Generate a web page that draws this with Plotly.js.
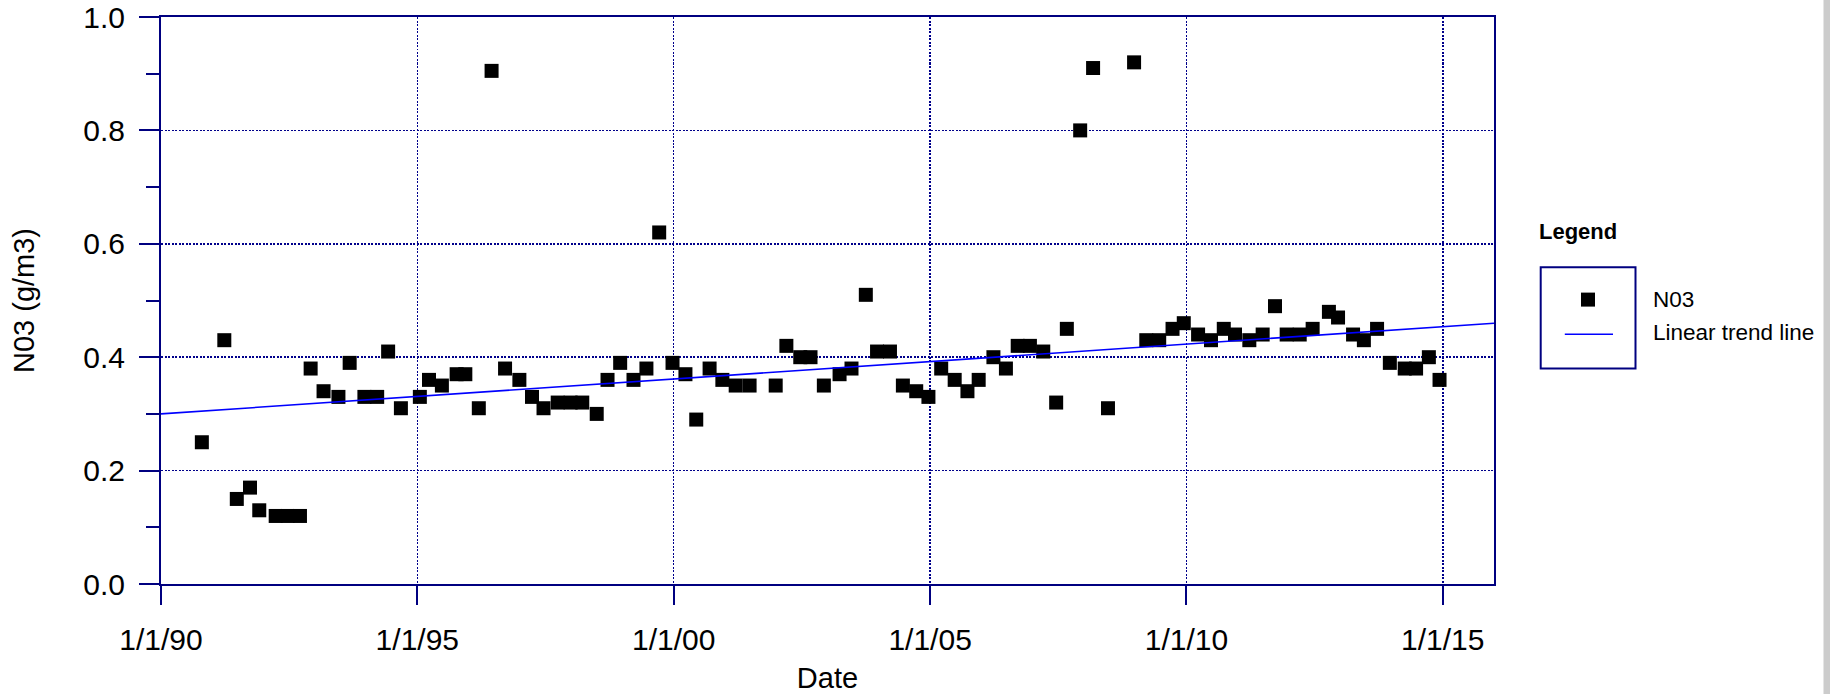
<!DOCTYPE html>
<html>
<head>
<meta charset="utf-8">
<script src="https://cdn.plot.ly/plotly-3.0.1.min.js"></script>
<style>
  html, body { margin: 0; padding: 0; background: #ffffff; }
  #chart { width: 1830px; height: 694px; }
</style>
</head>
<body>
<div id="chart"></div>
<script>
// ---- Data ----
const sampleDates = [
  '1990-10-19','1991-03-28','1991-06-25','1991-09-27','1991-12-02',
  '1992-03-28','1992-06-21','1992-09-17','1992-12-02',
  '1993-03-04','1993-06-18','1993-09-06','1993-12-20',
  '1994-03-21','1994-06-07','1994-09-06',
  '1995-01-19','1995-03-25','1995-06-25','1995-10-08','1995-12-09',
  '1996-03-14','1996-06-13','1996-09-17','1996-12-28',
  '1997-03-28','1997-06-18','1997-09-27','1997-12-28',
  '1998-03-21','1998-07-02','1998-09-17','1998-12-16',
  '1999-03-21','1999-06-21','1999-09-20','1999-12-24',
  '2000-03-25','2000-06-10','2000-09-13','2000-12-13',
  '2001-03-18','2001-06-25','2001-12-28',
  '2002-03-14','2002-06-21','2002-09-02','2002-12-06',
  '2003-03-28','2003-06-21','2003-10-01','2003-12-20',
  '2004-03-21','2004-06-21','2004-09-24','2004-12-20',
  '2005-03-21','2005-06-25','2005-09-24','2005-12-13',
  '2006-03-28','2006-06-25','2006-09-17','2006-12-13',
  '2007-03-18','2007-06-18','2007-09-02','2007-12-06',
  '2008-03-07','2008-06-21','2008-12-24',
  '2009-03-21','2009-06-21','2009-09-24','2009-12-13',
  '2010-03-25','2010-06-25','2010-09-24','2010-12-13',
  '2011-03-25','2011-06-28','2011-09-24','2011-12-16',
  '2012-03-18','2012-06-18','2012-10-12','2012-12-16',
  '2013-04-02','2013-06-18','2013-09-20','2013-12-20',
  '2014-04-05','2014-06-25','2014-09-24','2014-12-09'
];
const no3Values = [
  0.25, 0.43, 0.15, 0.17, 0.13,
  0.12, 0.12, 0.12, 0.38,
  0.34, 0.33, 0.39, 0.33,
  0.33, 0.41, 0.31,
  0.33, 0.36, 0.35, 0.37, 0.37,
  0.31, 0.905, 0.38, 0.36,
  0.33, 0.31, 0.32, 0.32,
  0.32, 0.30, 0.36, 0.39,
  0.36, 0.38, 0.62, 0.39,
  0.37, 0.29, 0.38, 0.36,
  0.35, 0.35, 0.35,
  0.42, 0.40, 0.40, 0.35,
  0.37, 0.38, 0.51, 0.41,
  0.41, 0.35, 0.34, 0.33,
  0.38, 0.36, 0.34, 0.36,
  0.40, 0.38, 0.42, 0.42,
  0.41, 0.32, 0.45, 0.80,
  0.91, 0.31, 0.92,
  0.43, 0.43, 0.45, 0.46,
  0.44, 0.43, 0.45, 0.44,
  0.43, 0.44, 0.49, 0.44,
  0.44, 0.45, 0.48, 0.47,
  0.44, 0.43, 0.45, 0.39,
  0.38, 0.38, 0.40, 0.36
];
const trendDates = ['1990-01-01', '2016-01-01'];
const trendValues = [0.300, 0.460];

const xTickVals = ['1990-01-01','1995-01-01','2000-01-01','2005-01-01','2010-01-01','2015-01-01'];
const xTickText = ['1/1/90','1/1/95','1/1/00','1/1/05','1/1/10','1/1/15'];
const yTickVals = [0.0, 0.2, 0.4, 0.6, 0.8, 1.0];
const yTickText = ['0.0','0.2','0.4','0.6','0.8','1.0'];

const seriesName = 'N03';
const trendName = 'Linear trend line';
const legendTitle = 'Legend';

// ---- Layout geometry (pixels) ----
const W = 1830, H = 694;
const M = { l: 161, r: 336, t: 17, b: 110 };
const plotW = W - M.l - M.r, plotH = H - M.t - M.b;
const px = x => (x - M.l) / plotW;        // pixel x -> paper x
const py = y => (H - M.b - y) / plotH;    // pixel y -> paper y

const FONT = 'Liberation Sans, Arial, Helvetica, sans-serif';
const NAVY = '#000080';
const GRID = '#00008b';

const traces = [
  {
    type: 'scatter', mode: 'markers', name: seriesName,
    x: sampleDates, y: no3Values,
    marker: { symbol: 'square', size: 14, color: '#000000', line: { width: 0 } },
    hoverinfo: 'x+y'
  },
  {
    type: 'scatter', mode: 'lines', name: trendName,
    x: trendDates, y: trendValues,
    line: { color: '#0000ff', width: 1.6 },
    hoverinfo: 'skip'
  }
];

const layout = {
  width: W, height: H,
  margin: M,
  paper_bgcolor: '#ffffff', plot_bgcolor: '#ffffff',
  showlegend: false,
  font: { family: FONT, color: '#000000' },
  xaxis: {
    type: 'date',
    range: ['1990-01-01', '2016-01-01'],
    tickmode: 'array', tickvals: xTickVals, ticktext: xTickText,
    ticks: 'outside', ticklen: 19, tickwidth: 2, tickcolor: NAVY,
    ticklabelstandoff: 9,
    tickfont: { family: FONT, size: 30, color: '#000000' },
    showline: true, linecolor: NAVY, linewidth: 2, mirror: true,
    showgrid: true, gridcolor: GRID, gridwidth: 1.5, griddash: '2px,1.5px',
    zeroline: false,
    title: { text: 'Date', font: { family: FONT, size: 29, color: '#000000' }, standoff: 15 },
    automargin: false
  },
  yaxis: {
    range: [0, 1],
    tickmode: 'array', tickvals: yTickVals, ticktext: yTickText,
    ticks: 'outside', ticklen: 20, tickwidth: 2, tickcolor: NAVY,
    ticklabelstandoff: 8,
    tickfont: { family: FONT, size: 30, color: '#000000' },
    minor: { dtick: 0.1, tick0: 0, ticks: 'outside', ticklen: 13, tickwidth: 2, tickcolor: NAVY, showgrid: false },
    showline: true, linecolor: NAVY, linewidth: 2, mirror: true,
    showgrid: true, gridcolor: GRID, gridwidth: 1.5, griddash: '2px,1.5px',
    zeroline: false,
    title: { text: 'N03 (g/m3)', font: { family: FONT, size: 29, color: '#000000' }, standoff: 40 },
    automargin: false
  },
  shapes: [
    // legend box (encloses symbols only)
    { type: 'rect', xref: 'paper', yref: 'paper',
      x0: px(1540.7), x1: px(1635.5), y0: py(368.4), y1: py(267.3),
      line: { color: NAVY, width: 2 }, fillcolor: 'rgba(0,0,0,0)' },
    // legend marker symbol
    { type: 'rect', xref: 'paper', yref: 'paper',
      x0: px(1581), x1: px(1595), y0: py(306.6), y1: py(292.6),
      line: { width: 0 }, fillcolor: '#000000' },
    // legend line symbol
    { type: 'line', xref: 'paper', yref: 'paper',
      x0: px(1564.8), x1: px(1613), y0: py(334.2), y1: py(334.2),
      line: { color: '#0000ff', width: 1.6 } },
    // grey strip at the right edge
    { type: 'rect', xref: 'paper', yref: 'paper', layer: 'below',
      x0: px(1823.5), x1: px(1840), y0: py(H + 10), y1: py(-10),
      line: { width: 0 }, fillcolor: '#cccccc' }
  ],
  annotations: [
    { xref: 'paper', yref: 'paper', x: px(1537), y: py(231), xanchor: 'left', yanchor: 'middle',
      text: '<b>' + legendTitle + '</b>', showarrow: false,
      font: { family: FONT, size: 22, color: '#000000' } },
    { xref: 'paper', yref: 'paper', x: px(1651), y: py(299), xanchor: 'left', yanchor: 'middle',
      text: seriesName, showarrow: false,
      font: { family: FONT, size: 22.5, color: '#000000' } },
    { xref: 'paper', yref: 'paper', x: px(1651), y: py(332), xanchor: 'left', yanchor: 'middle',
      text: trendName, showarrow: false,
      font: { family: FONT, size: 22.5, color: '#000000' } }
  ]
};

Plotly.newPlot('chart', traces, layout, { displayModeBar: false, staticPlot: true });
</script>
</body>
</html>
